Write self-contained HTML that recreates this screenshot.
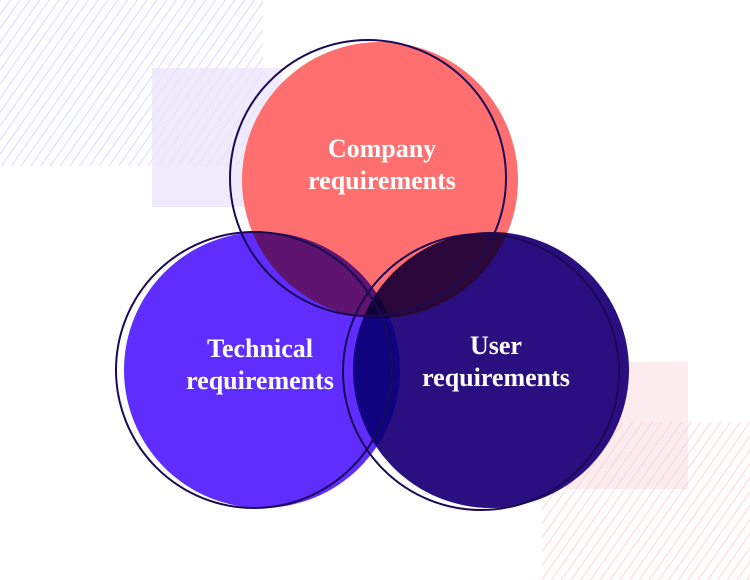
<!DOCTYPE html>
<html><head><style>
body{margin:0;width:750px;height:580px;overflow:hidden;background:#fff;position:relative}
svg{position:absolute;left:0;top:0}
.t{font-family:"Liberation Serif",serif;font-weight:bold;font-size:26px;fill:#fff;text-anchor:middle}
</style></head><body>
<svg width="750" height="580" viewBox="0 0 750 580">
<defs>
<pattern id="hb" width="8" height="8" patternUnits="userSpaceOnUse" patternTransform="rotate(35)">
<line x1="0" y1="0" x2="0" y2="8" stroke="#d0d0fa" stroke-width="1.6"/></pattern>
<pattern id="hp" width="8" height="8" patternUnits="userSpaceOnUse" patternTransform="rotate(35)">
<line x1="0" y1="0" x2="0" y2="8" stroke="#f9cdd2" stroke-width="1.6"/></pattern>
</defs>
<rect x="0" y="0" width="263" height="166" fill="url(#hb)"/>
<rect x="152" y="68" width="130" height="139" fill="#e9e4fb" opacity="0.75"/>
<rect x="560" y="362" width="128" height="127" fill="#fdeced"/>
<rect x="542" y="422" width="208" height="158" fill="url(#hp)"/>
<g style="isolation:isolate">
<circle cx="262" cy="370" r="138" fill="#5f2eff" style="mix-blend-mode:multiply"/>
<circle cx="491" cy="370" r="138" fill="#2a0f80" style="mix-blend-mode:multiply"/>
<circle cx="380" cy="180" r="138" fill="#ff6f6f" style="mix-blend-mode:multiply"/>
</g>
<g fill="none" stroke="#1a0a55" stroke-width="2">
<circle cx="368" cy="178" r="138"/>
<circle cx="254" cy="370" r="138"/>
<circle cx="481" cy="372" r="138"/>
</g>
<text class="t" x="382" y="157">Company</text>
<text class="t" x="382" y="189">requirements</text>
<text class="t" x="260" y="357">Technical</text>
<text class="t" x="260" y="389">requirements</text>
<text class="t" x="496" y="354">User</text>
<text class="t" x="496" y="386">requirements</text>
</svg>
</body></html>
